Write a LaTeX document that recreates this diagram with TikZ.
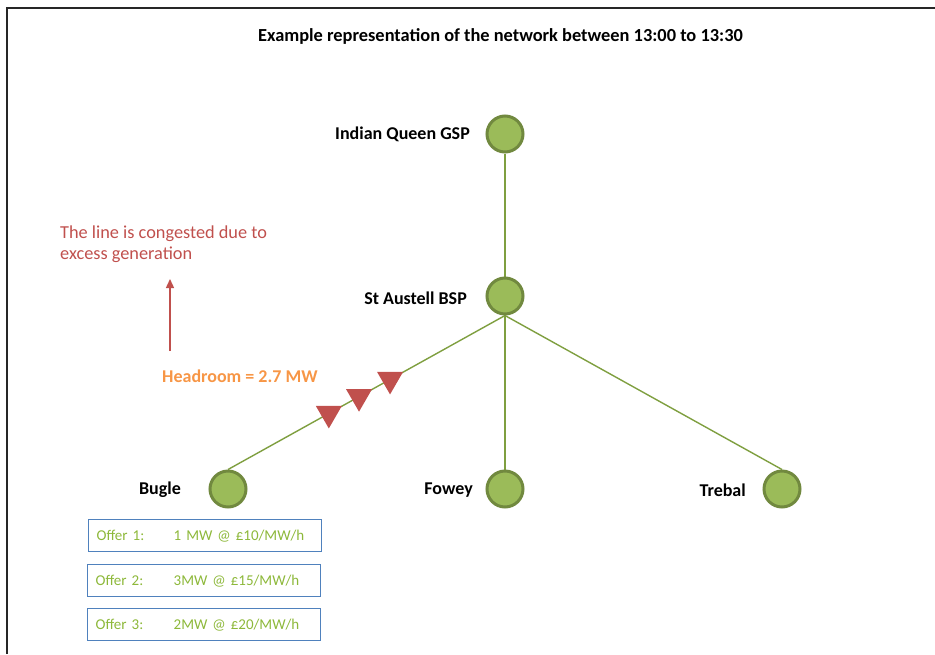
\documentclass[tikz,border=0pt]{standalone}
\usepackage{fontspec}
\setmainfont{Carlito}
\usetikzlibrary{shapes.geometric,arrows.meta,backgrounds}
\definecolor{busfill}{HTML}{9BBB59}
\definecolor{busedge}{HTML}{71893F}
\definecolor{linkgreen}{HTML}{7F9F40}
\definecolor{alertred}{HTML}{C0504D}
\definecolor{headorange}{HTML}{F79646}
\definecolor{offerblue}{HTML}{4F81BD}
\definecolor{offergreen}{HTML}{8DB83A}
\tikzset{
  bus/.style={circle, fill=busfill, draw=busedge, line width=3pt, minimum size=36pt, inner sep=0pt},
  buslabel/.style={anchor=east, font=\fontsize{18}{21}\selectfont\bfseries, inner sep=0pt},
  link/.style={draw=linkgreen, line width=1.4pt},
  flowmark/.style={regular polygon, regular polygon sides=3, shape border rotate=180,
    fill=alertred, inner sep=0pt, minimum size=30pt},
  offer/.style={draw=offerblue, line width=1.3pt, anchor=north west, minimum height=32pt,
    text width=217pt, inner xsep=8pt, align=left, text=offergreen,
    font=\fontsize{15}{18}\selectfont},
  note/.style={text=alertred, font=\fontsize{18.3}{21.5}\selectfont, inner sep=0pt}
}
\begin{document}
\begin{tikzpicture}[x=1pt,y=-1pt]
\useasboundingbox (0,0) rectangle (935,654);
% outer frame (left and top edges)
\draw[line width=2.5pt, black!85] (7,654) -- (7,8) -- (935,8);

% title
\node[font=\fontsize{18.4}{22}\selectfont\bfseries] (title) at (500.5,36) {Example representation of the network between 13:00 to 13:30};

% substations
\node[bus] (iq) at (505,134) {};
\node[bus] (sa) at (505,296) {};
\node[bus] (bugle) at (228,489) {};
\node[bus] (fowey) at (505,489) {};
\node[bus] (trebal) at (782,489) {};

\node[buslabel] (iqlbl) at (470,134) {Indian Queen GSP};
\node[buslabel] (salbl) at (467,298) {St Austell BSP};
\node[buslabel] (buglelbl) at (181,490) {Bugle};
\node[buslabel] (foweylbl) at (473,490) {Fowey};
\node[buslabel] (treballbl) at (746,490) {Trebal};

% network lines
\begin{pgfonlayer}{background}
\draw[link] (iq.south) -- (sa.north);
\draw[link] (sa.south) -- (bugle.north);
\draw[link] (sa.south) -- (fowey.north);
\draw[link] (sa.south) -- (trebal.north);
\end{pgfonlayer}

% direction of the congested flow
\path (sa.south) -- (bugle.north)
  node[flowmark, pos=0.415] (f1) {}
  node[flowmark, pos=0.527] (f2) {}
  node[flowmark, pos=0.636] (f3) {};

% congestion note
\node[note, anchor=base west] (cong1) at (60,238) {The line is congested due to};
\node[note, anchor=base west] (cong2) at (60,259.5) {excess generation};
\coordinate (arrfoot) at (170,351);
\coordinate (arrtip) at (170,279);
\draw[draw=alertred, line width=1.4pt, -{Triangle[length=9pt,width=8pt]}] (arrfoot) -- (arrtip);

\node[anchor=base west, inner sep=0pt, text=headorange, font=\fontsize{18}{21}\selectfont\bfseries] (head) at (162,382) {Headroom = 2.7 MW};

% Bugle offers
\node[offer] (o1) at (88,519) {\makebox[77pt][l]{Offer 1:}1 MW @ £10/MW/h};
\node[offer] (o2) at (87,564) {\makebox[78pt][l]{Offer 2:}3MW @ £15/MW/h};
\node[offer] (o3) at (87,608) {\makebox[78pt][l]{Offer 3:}2MW @ £20/MW/h};
\end{tikzpicture}
\end{document}
